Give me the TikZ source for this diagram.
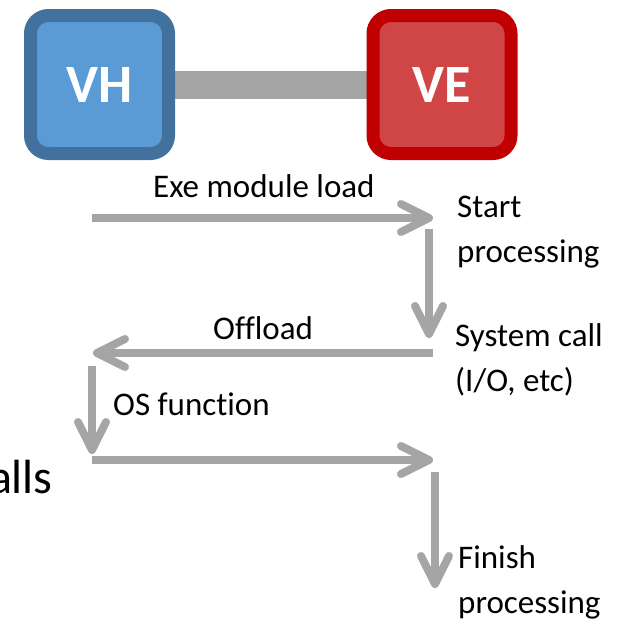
\documentclass[tikz,border=0pt]{standalone}
\usepackage{fontspec}
\setmainfont{Carlito}[Ligatures=NoCommon]
\usetikzlibrary{arrows.meta,backgrounds}
\definecolor{vhfill}{HTML}{5B9BD5}
\definecolor{vhborder}{HTML}{41719C}
\definecolor{vefill}{HTML}{D04545}
\definecolor{veborder}{HTML}{C00000}
\definecolor{flow}{HTML}{A5A5A5}
\begin{document}
\begin{tikzpicture}[x=1pt,y=-1pt,
  box/.style={rounded corners=18pt, line width=13pt, minimum width=138pt, minimum height=138pt, inner sep=0pt, text=white, font=\fontsize{54}{60}\selectfont\bfseries},
  flowarrow/.style={draw=flow, line width=8pt, -{Straight Barb[length=28pt,width=28pt,line join=round,line cap=round]}},
  lbl/.style={anchor=base west, inner sep=0pt, font=\fontsize{33}{45}\selectfont, align=left}
]
\useasboundingbox (0,0) rectangle (624,621);
\node[box, draw=vhborder, fill=vhfill] (vh) at (99.5,84.5) {VH};
\node[box, draw=veborder, fill=vefill] (ve) at (442,84.5) {VE};
\begin{scope}[on background layer]
\draw[flow, line width=28pt] (vh.east) -- (ve.west);
\end{scope}

\coordinate (c1s) at (92,218);  \coordinate (c1e) at (433,218);
\coordinate (c2s) at (429,229); \coordinate (c2e) at (429,338);
\coordinate (c3s) at (433,353); \coordinate (c3e) at (93,353);
\coordinate (c4s) at (92,366);  \coordinate (c4e) at (92,454);
\coordinate (c5s) at (92,460);  \coordinate (c5e) at (433,460);
\coordinate (c6s) at (435,472); \coordinate (c6e) at (435,588);

\draw[flowarrow] (c1s) -- (c1e);
\draw[flowarrow] (c2s) -- (c2e);
\draw[flowarrow] (c3s) -- (c3e);
\draw[flowarrow] (c4s) -- (c4e);
\draw[flowarrow] (c5s) -- (c5e);
\draw[flowarrow] (c6s) -- (c6e);

\node[lbl] (l1) at (153,197) {Exe module load};
\node[lbl] (l2) at (213,339) {Offload};
\node[lbl] (l3) at (113,415) {OS function};
\node[lbl] (t1) at (457,262) {Start\\processing};
\node[lbl] (t2) at (455,391) {System call\\(I/O, etc)};
\node[lbl] (t3) at (458,613) {Finish\\processing};
\node[anchor=base east, inner sep=0pt, font=\fontsize{48}{56}\selectfont] (t4) at (53,493) {alls};
\end{tikzpicture}
\end{document}
